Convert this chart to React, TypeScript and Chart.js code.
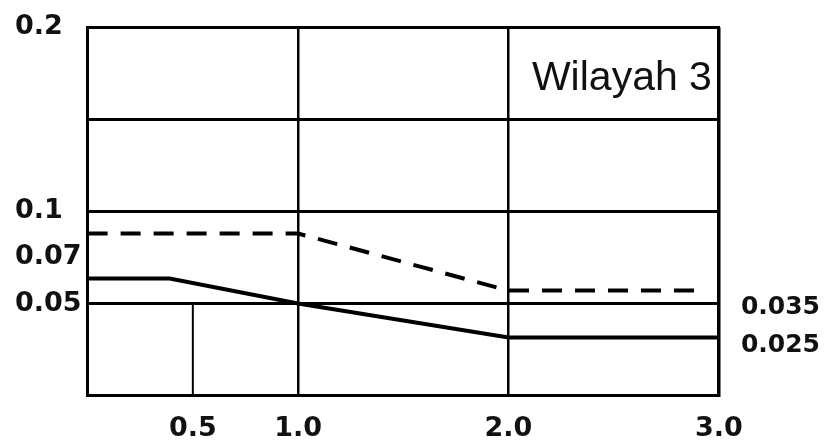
import React, { useEffect, useRef } from "react";
import { Chart, registerables } from "chart.js";

Chart.register(...registerables);

// Dashed spectrum (upper curve)
const periodsUpper = [0, 1.0, 2.0, 2.9];
const valuesUpper = [0.088, 0.088, 0.057, 0.057];
// Solid spectrum (lower curve)
const periodsLower = [0, 0.39, 1.0, 2.0, 3.0];
const valuesLower = [0.0636, 0.0636, 0.05, 0.0315, 0.0315];
// Short vertical marker at T = 0.5
const markerPeriods = [0.5, 0.5];
const markerValues = [0, 0.05];

const xTickValues = [0, 0.5, 1.0, 2.0, 3.0];
const xTickLabels = ["", "0.5", "1.0", "2.0", "3.0"];
const xHiddenGrid = [0.5];
const yTickValues = [0, 0.05, 0.075, 0.1, 0.15, 0.2];
const yTickLabels = ["", "0.05", "0.07", "0.1", "", "0.2"];
const yHiddenGrid = [0.075];
const yRightTickValues = [0.027, 0.048];
const yRightTickLabels = ["0.025", "0.035"];
const regionLabel = "Wilayah 3";

const toPoints = (xs: number[], ys: number[]) => xs.map((x, i) => ({ x, y: ys[i] }));

const labelPlugin = {
  id: "regionLabel",
  afterDatasetsDraw(chart: any) {
    const { ctx, chartArea } = chart;
    ctx.save();
    ctx.font = '41px "Liberation Sans", Arial, sans-serif';
    ctx.fillStyle = "#111";
    ctx.textAlign = "right";
    ctx.textBaseline = "alphabetic";
    ctx.fillText(regionLabel, chartArea.right - 7, chartArea.top + 63);
    ctx.restore();
  },
};

export default function App() {
  const canvasRef = useRef<HTMLCanvasElement | null>(null);

  useEffect(() => {
    if (!canvasRef.current) return;
    const fam = '"DejaVu Sans", sans-serif';
    const chart = new Chart(canvasRef.current, {
      type: "scatter",
      data: {
        datasets: [
          {
            data: toPoints(periodsUpper, valuesUpper),
            showLine: true,
            borderColor: "#000",
            borderWidth: 4,
            borderDash: [20, 13],
            pointRadius: 0,
            fill: false,
            tension: 0,
          },
          {
            data: toPoints(periodsLower, valuesLower),
            showLine: true,
            borderColor: "#000",
            borderWidth: 4,
            pointRadius: 0,
            fill: false,
            tension: 0,
          },
          {
            data: toPoints(markerPeriods, markerValues),
            showLine: true,
            borderColor: "#000",
            borderWidth: 2,
            pointRadius: 0,
            fill: false,
            tension: 0,
          },
        ],
      },
      options: {
        responsive: true,
        maintainAspectRatio: false,
        animation: false,
        layout: { padding: { left: 7, right: 1, top: 0, bottom: 0 } },
        plugins: {
          legend: { display: false },
          tooltip: { enabled: false },
        },
        scales: {
          x: {
            type: "linear",
            min: 0,
            max: 3,
            afterBuildTicks: (axis: any) => {
              axis.ticks = xTickValues.map((v) => ({ value: v }));
            },
            ticks: {
              autoSkip: false,
              maxRotation: 0,
              padding: 17,
              color: "#111",
              font: { family: fam, weight: "bold", size: 27 },
              callback: (value: any) => xTickLabels[xTickValues.indexOf(Number(value))] ?? "",
            },
            grid: {
              drawTicks: false,
              color: (ctx: any) =>
                ctx.tick && xHiddenGrid.includes(ctx.tick.value) ? "rgba(0,0,0,0)" : "#000",
              lineWidth: 2.5,
            },
            border: { color: "#000", width: 3 },
          },
          y: {
            type: "linear",
            position: "left",
            min: 0,
            max: 0.2,
            afterBuildTicks: (axis: any) => {
              axis.ticks = yTickValues.map((v) => ({ value: v }));
            },
            ticks: {
              autoSkip: false,
              crossAlign: "far",
              padding: 3,
              color: "#111",
              font: { family: fam, weight: "bold", size: 27 },
              callback: (value: any) => yTickLabels[yTickValues.indexOf(Number(value))] ?? "",
            },
            grid: {
              drawTicks: false,
              color: (ctx: any) =>
                ctx.tick && yHiddenGrid.includes(ctx.tick.value) ? "rgba(0,0,0,0)" : "#000",
              lineWidth: 3,
            },
            border: { color: "#000", width: 3 },
          },
          y2: {
            type: "linear",
            position: "right",
            min: 0,
            max: 0.2,
            afterBuildTicks: (axis: any) => {
              axis.ticks = yRightTickValues.map((v) => ({ value: v }));
            },
            ticks: {
              autoSkip: false,
              crossAlign: "far",
              padding: 11,
              color: "#111",
              font: { family: fam, weight: "bold", size: 25, lineHeight: 0.64 },
              callback: (value: any) =>
                yRightTickLabels[yRightTickValues.indexOf(Number(value))] ?? "",
            },
            grid: { display: false, drawTicks: false },
            border: { color: "#000", width: 3 },
          },
        },
      },
      plugins: [labelPlugin],
    });
    return () => chart.destroy();
  }, []);

  return (
    <div style={{ width: "100%", height: 436, marginBottom: -8, overflow: "hidden" }}>
      <div style={{ position: "relative", width: "100%", height: 454 }}>
        <canvas ref={canvasRef} />
      </div>
    </div>
  );
}
